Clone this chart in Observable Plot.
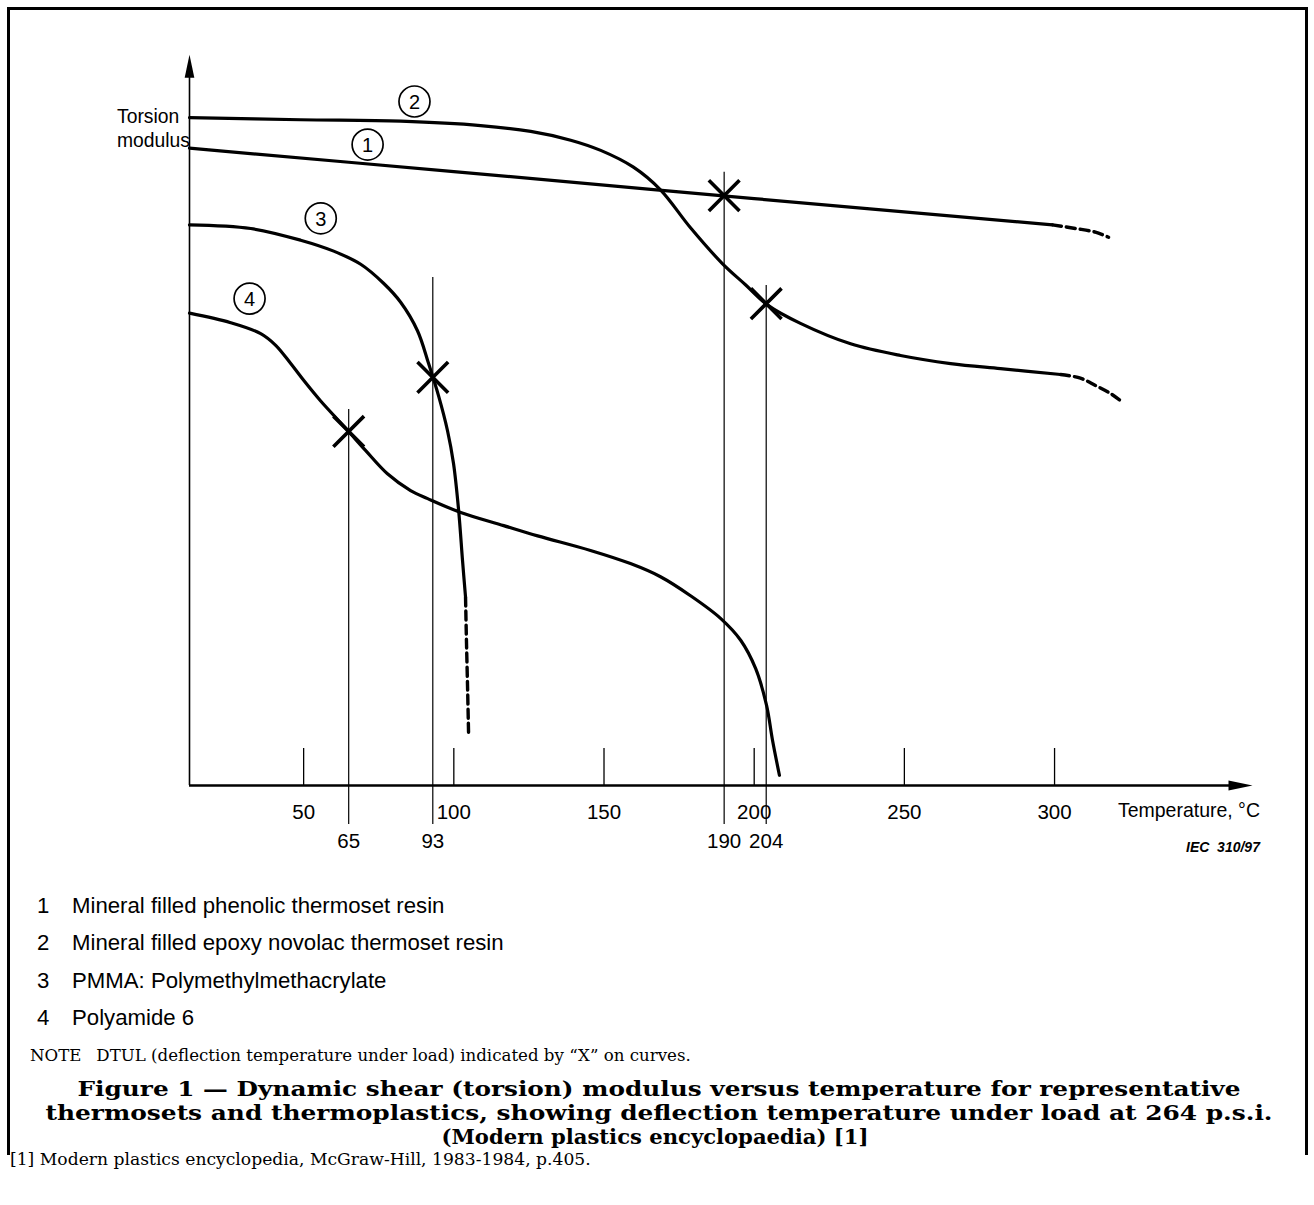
<!DOCTYPE html>
<html>
<head>
<meta charset="utf-8">
<script src="https://cdn.jsdelivr.net/npm/d3@7"></script>
<script src="https://cdn.jsdelivr.net/npm/@observablehq/plot@0.6"></script>
<style>
  html, body { margin: 0; padding: 0; background: #fff; }
  body { width: 1314px; height: 1205px; position: relative; overflow: hidden; }
  #frame { position: absolute; left: 7px; top: 7px; width: 1295px; height: 1145px;
           border: 3px solid #000; border-bottom: none; }
  #chart { position: absolute; left: 0; top: 0; }
  .lbl { position: absolute; white-space: nowrap; line-height: 1; transform: translateY(-50%); color: #000; }
  .sans { font-family: "Liberation Sans", Arial, Helvetica, sans-serif; }
  .serif { font-family: "DejaVu Serif", "Liberation Serif", serif; }
  .it { font-style: italic; font-weight: bold; }
  .cap { position: absolute; white-space: nowrap; line-height: 1; transform: translate(-50%, -50%);
         font-family: "DejaVu Serif", "Liberation Serif", serif; font-weight: bold; color: #000; }
</style>
</head>
<body>
<div id="frame"></div>
<div id="chart"></div>
<div id="texts"></div>
<script>
// ---------- data ----------
const tempTicks = [50, 100, 150, 200, 250, 300];
const dtulTemps = [65, 93, 190, 204];
const dtulModulus = [48.5, 55.9, 80.8, 66.0];
const dtulGuideTop = [51.5, 69.6, 84.0, 68.5];

const curveLabels = ["2", "1", "3", "4"];
const curveLabelTemp = [86.9, 71.3, 55.7, 32.0];
const curveLabelMod = [93.7, 87.8, 77.7, 66.7];

// 1 Mineral filled phenolic thermoset resin
const c1Temp = [12, 100, 200, 299.3];
const c1Mod = [87.3, 84.1, 80.4, 76.8];
const c1DashTemp = [299.3, 307.0, 313.6, 318.0];
const c1DashMod = [76.8, 76.3, 75.8, 75.1];

// 2 Mineral filled epoxy novolac thermoset resin
const c2Temp = [12, 49, 82.3, 108.9, 125.6, 138.9, 148.9, 159.8, 168.8, 178.8, 189.4, 197.1, 204.5, 215.4, 232.1, 248.7, 265.4, 282, 302];
const c2Mod = [91.5, 91.2, 91.0, 90.4, 89.6, 88.4, 87.0, 84.7, 81.6, 76.4, 71.5, 68.6, 65.8, 63.3, 60.5, 58.9, 57.8, 57.1, 56.3];
const c2DashTemp = [302, 308.6, 313.6, 318.6, 322];
const c2DashMod = [56.3, 55.8, 54.8, 53.7, 52.7];

// 3 PMMA
const c3Temp = [12, 32.4, 49, 60, 69, 76.6, 82.3, 87.9, 91.6, 94.9, 97.9, 99.9, 101.6, 102.9, 103.9];
const c3Mod = [76.8, 76.3, 74.7, 73.2, 71.4, 68.8, 66.2, 62.3, 57.8, 53.4, 48.6, 44.1, 37.7, 30.8, 25.8];
const c3DashTemp = [103.9, 104.2, 104.6, 104.9];
const c3DashMod = [25.8, 19.9, 13.0, 7.3];

// 4 Polyamide 6
const c4Temp = [12, 25.7, 35.7, 40.7, 45.7, 50, 55.6, 64.3, 70.6, 77.9, 85.6, 91.3, 102.3, 116.6, 127.9, 145.5, 158.8, 168.8, 178.8, 188.8, 195.5, 200.5, 204.1, 206.1, 208.4];
const c4Mod = [64.7, 63.4, 61.9, 60.3, 57.8, 55.5, 52.7, 48.8, 45.9, 42.7, 40.4, 39.3, 37.4, 35.6, 34.2, 32.2, 30.4, 28.6, 26.0, 22.9, 19.9, 16.0, 11.0, 6.2, 1.4];

const legendNums = ["1", "2", "3", "4"];
const legendNames = [
  "Mineral filled phenolic thermoset resin",
  "Mineral filled epoxy novolac thermoset resin",
  "PMMA: Polymethylmethacrylate",
  "Polyamide 6"
];
const xAxisTitle = "Temperature, °C";
const yAxisTitle = ["Torsion", "modulus"];
const sourceTag = "IEC  310/97";
const noteLabel = "NOTE";
const noteText = "DTUL (deflection temperature under load) indicated by “X” on curves.";
const captionLines = [
  "Figure 1 — Dynamic shear (torsion) modulus versus temperature for representative",
  "thermosets and thermoplastics, showing deflection temperature under load at 264 p.s.i.",
  "(Modern plastics encyclopaedia) [1]"
];
const footnote = "[1] Modern plastics encyclopedia, McGraw-Hill, 1983-1984, p.405.";

// ---------- build tables ----------
function rows(series, T, M) { return T.map((t, i) => ({series, T: t, M: M[i]})); }
const solid = [
  ...rows("1", c1Temp, c1Mod), ...rows("2", c2Temp, c2Mod),
  ...rows("3", c3Temp, c3Mod), ...rows("4", c4Temp, c4Mod)
];
const dashed = [
  ...rows("1", c1DashTemp, c1DashMod), ...rows("2", c2DashTemp, c2DashMod),
  ...rows("3", c3DashTemp, c3DashMod)
];
const dtul = dtulTemps.map((t, i) => ({T: t, M: dtulModulus[i], top: dtulGuideTop[i]}));
const circ = curveLabels.map((s, i) => ({s, T: curveLabelTemp[i], M: curveLabelMod[i]}));

const X0 = 12, X1 = 365.9, Y0 = 0, Y1 = 100.1;

// filled arrowhead symbol: tip at origin, body extending along +y
const arrowHead = {
  draw(context, size) {
    const r = Math.sqrt(size / Math.PI);
    context.moveTo(0, 0);
    context.lineTo(0.42 * r, 2 * r);
    context.lineTo(-0.42 * r, 2 * r);
    context.closePath();
  }
};

const chart = Plot.plot({
  width: 1314, height: 870,
  marginLeft: 189, marginRight: 62, marginTop: 55, marginBottom: 85,
  x: {domain: [X0, X1], label: null},
  y: {domain: [0, 100], axis: null, label: null},
  style: {fontFamily: '"Liberation Sans", Arial, Helvetica, sans-serif', fontSize: "20.5px", color: "#000", background: "transparent", overflow: "visible"},
  marks: [
    // DTUL guide lines
    Plot.ruleX(dtul, {x: "T", y1: "top", y2: -5.34, stroke: "#000", strokeWidth: 1.2}),
    // inner tick marks
    Plot.ruleX(tempTicks, {x: d => d, y1: 0, y2: 5.07, stroke: "#000", strokeWidth: 1.3}),
    // axes
    Plot.ruleY([Y0], {x1: X0, x2: X1 - 4, stroke: "#000", strokeWidth: 2.6}),
    Plot.ruleX([X0], {y1: Y0, y2: Y1 - 2, stroke: "#000", strokeWidth: 1.6}),
    Plot.dot([{x: X1, y: Y0}], {x: "x", y: "y", symbol: arrowHead, r: 12, rotate: 90, fill: "#000", stroke: "none"}),
    Plot.dot([{x: X0, y: Y1}], {x: "x", y: "y", symbol: arrowHead, r: 11.5, rotate: 0, fill: "#000", stroke: "none"}),
    // tick labels
    Plot.axisX(tempTicks, {tickSize: 0, tickPadding: 19, label: null, fontSize: 20.5, tickFormat: d => String(d)}),
    Plot.axisX(dtulTemps, {tickSize: 0, tickPadding: 48, label: null, fontSize: 20.5, tickFormat: d => String(d)}),
    // curves
    Plot.line(solid, {x: "T", y: "M", z: "series", curve: "catmull-rom", stroke: "#000", strokeWidth: 3.2, strokeLinecap: "round"}),
    Plot.line(dashed, {x: "T", y: "M", z: "series", curve: "catmull-rom", stroke: "#000", strokeWidth: 3.4, strokeDasharray: "9,5"}),
    // DTUL crosses
    Plot.dot(dtul, {x: "T", y: "M", symbol: "times", r: 14, stroke: "#000", strokeWidth: 3.6}),
    // curve number labels
    Plot.dot(circ, {x: "T", y: "M", r: 15.5, stroke: "#000", strokeWidth: 1.7, fill: "none"}),
    Plot.text(circ, {x: "T", y: "M", text: "s", fontSize: 20, fill: "#000", dy: 1})
  ]
});
document.getElementById("chart").appendChild(chart);

// ---------- HTML texts ----------
const T = document.getElementById("texts");
function add(html, cls, left, top, style = "") {
  const d = document.createElement("div");
  d.className = "lbl " + cls;
  d.style.cssText = `left:${left}px;top:${top}px;${style}`;
  d.innerHTML = html;
  T.appendChild(d);
  return d;
}
function fit(el, target) {
  const w = el.getBoundingClientRect().width;
  const fs = parseFloat(getComputedStyle(el).fontSize);
  const n = fs * target / w;
  el.style.fontSize = n + "px";
  return n;
}
const ty1 = add(yAxisTitle[0], "sans", 117, 117, "font-size:20px");
const ty2 = add(yAxisTitle[1], "sans", 117, 141, "font-size:20px");
fit(ty2, 73); ty1.style.fontSize = ty2.style.fontSize;
const xt = add(xAxisTitle, "sans", 1118, 811, "font-size:20px");
fit(xt, 142);
const iec = add(sourceTag.replace(/ /g, "&nbsp;"), "sans it", 1186, 847, "font-size:14px");
fit(iec, 74);

const legendY = [906, 943, 981, 1018];
const nums = [], names = [];
legendNums.forEach((n, i) => {
  nums.push(add(n, "sans", 37, legendY[i], "font-size:19px"));
  names.push(add(legendNames[i], "sans", 72, legendY[i], "font-size:19px"));
});
const ls = fit(names[1], 432);
names.forEach(e => e.style.fontSize = ls + "px");
nums.forEach(e => e.style.fontSize = ls + "px");

const note = add(`${noteLabel}<span style="display:inline-block;width:0.9em"></span>${noteText}`, "serif", 30, 1056, "font-size:15px");
fit(note, 661);

// caption: fixed size, horizontally stretched to match each line's width
const capY = [1089, 1113, 1137];
const capX = [658.5, 658.5, 654.5];
const capW = [1163, 1227, 427];
captionLines.forEach((line, i) => {
  const d = document.createElement("div");
  d.className = "cap";
  d.style.left = capX[i] + "px";
  d.style.top = capY[i] + "px";
  d.style.fontSize = "20.5px";
  d.textContent = line;
  T.appendChild(d);
  const w = d.getBoundingClientRect().width;
  d.style.transform = `translate(-50%, -50%) scaleX(${capW[i] / w})`;
});
const foot = add(footnote, "serif", 10, 1160, "font-size:15px");
fit(foot, 581);
</script>
</body>
</html>
